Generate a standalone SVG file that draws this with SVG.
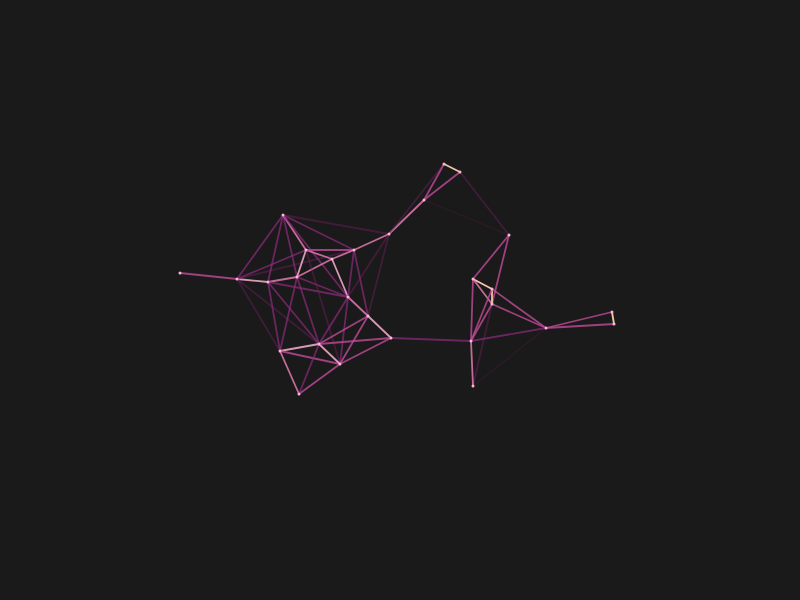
<svg xmlns="http://www.w3.org/2000/svg" width="800" height="600" viewBox="0 0 800 600">
<style>
.bg{fill:#1a1a1a}
line{stroke-width:1.8;stroke-linecap:round}
.w1{stroke:#7a2168;stroke-opacity:0.4}
.w2{stroke:#8e2b7c;stroke-opacity:0.7}
.w3{stroke:#c04a98;stroke-opacity:0.8}
.w4{stroke:#e07ab0;stroke-opacity:0.85}
.w4b{stroke:#eea6c6;stroke-opacity:0.9}
.w5{stroke:#f4c6a8}
.node circle{fill:#f7b8d2}
</style>
<rect class="bg" x="0" y="0" width="800" height="600"/>
<g id="links">
<line class="w3" x1="180" y1="273" x2="237" y2="279"/>
<line class="w4b" x1="237" y1="279" x2="268" y2="282"/>
<line class="w4" x1="268" y1="282" x2="297" y2="277"/>
<line class="w2" x1="237" y1="279" x2="283" y2="215"/>
<line class="w2" x1="237" y1="279" x2="306" y2="250"/>
<line class="w1" x1="237" y1="279" x2="354" y2="250"/>
<line class="w1" x1="237" y1="279" x2="319" y2="344"/>
<line class="w1" x1="237" y1="279" x2="280" y2="351"/>
<line class="w2" x1="283" y1="215" x2="268" y2="282"/>
<line class="w2" x1="283" y1="215" x2="297" y2="277"/>
<line class="w4" x1="283" y1="215" x2="306" y2="250"/>
<line class="w2" x1="283" y1="215" x2="354" y2="250"/>
<line class="w2" x1="283" y1="215" x2="348" y2="297"/>
<line class="w1" x1="283" y1="215" x2="389" y2="234"/>
<line class="w4b" x1="306" y1="250" x2="297" y2="277"/>
<line class="w4" x1="306" y1="250" x2="332" y2="259"/>
<line class="w3" x1="306" y1="250" x2="354" y2="250"/>
<line class="w4" x1="297" y1="277" x2="332" y2="259"/>
<line class="w4" x1="332" y1="259" x2="354" y2="250"/>
<line class="w4" x1="354" y1="250" x2="389" y2="234"/>
<line class="w4b" x1="332" y1="259" x2="348" y2="297"/>
<line class="w2" x1="354" y1="250" x2="348" y2="297"/>
<line class="w2" x1="354" y1="250" x2="368" y2="316"/>
<line class="w1" x1="389" y1="234" x2="348" y2="297"/>
<line class="w1" x1="389" y1="234" x2="368" y2="316"/>
<line class="w2" x1="268" y1="282" x2="348" y2="297"/>
<line class="w2" x1="297" y1="277" x2="348" y2="297"/>
<line class="w2" x1="268" y1="282" x2="280" y2="351"/>
<line class="w2" x1="268" y1="282" x2="319" y2="344"/>
<line class="w2" x1="297" y1="277" x2="280" y2="351"/>
<line class="w2" x1="297" y1="277" x2="319" y2="344"/>
<line class="w1" x1="306" y1="250" x2="340" y2="364"/>
<line class="w4" x1="348" y1="297" x2="368" y2="316"/>
<line class="w4b" x1="368" y1="316" x2="391" y2="338"/>
<line class="w2" x1="348" y1="297" x2="319" y2="344"/>
<line class="w2" x1="348" y1="297" x2="340" y2="364"/>
<line class="w4b" x1="280" y1="351" x2="319" y2="344"/>
<line class="w3" x1="280" y1="351" x2="340" y2="364"/>
<line class="w4" x1="280" y1="351" x2="299" y2="394"/>
<line class="w3" x1="299" y1="394" x2="340" y2="364"/>
<line class="w2" x1="299" y1="394" x2="319" y2="344"/>
<line class="w4b" x1="319" y1="344" x2="340" y2="364"/>
<line class="w3" x1="319" y1="344" x2="368" y2="316"/>
<line class="w3" x1="319" y1="344" x2="391" y2="338"/>
<line class="w3" x1="340" y1="364" x2="368" y2="316"/>
<line class="w3" x1="340" y1="364" x2="391" y2="338"/>
<line class="w2" x1="391" y1="338" x2="471" y2="341"/>
<line class="w4" x1="389" y1="234" x2="424" y2="200"/>
<line class="w1" x1="389" y1="234" x2="444" y2="164"/>
<line class="w3" x1="424" y1="200" x2="444" y2="164"/>
<line class="w3" x1="424" y1="200" x2="460" y2="172"/>
<line class="w5" x1="444" y1="164" x2="460" y2="172"/>
<line class="w1" x1="460" y1="172" x2="509" y2="235"/>
<line class="w1" x1="424" y1="200" x2="509" y2="235" style="stroke-opacity:0.15"/>
<line class="w3" x1="509" y1="235" x2="473" y2="279"/>
<line class="w3" x1="509" y1="235" x2="492" y2="304"/>
<line class="w1" x1="492" y1="304" x2="473" y2="386"/>
<line class="w5" x1="473" y1="279" x2="492" y2="289"/>
<line class="w4" x1="473" y1="279" x2="492" y2="304"/>
<line class="w5" x1="492" y1="289" x2="492" y2="304"/>
<line class="w3" x1="473" y1="279" x2="471" y2="341"/>
<line class="w3" x1="492" y1="289" x2="471" y2="341"/>
<line class="w3" x1="492" y1="304" x2="471" y2="341"/>
<line class="w3" x1="492" y1="289" x2="546" y2="328"/>
<line class="w3" x1="492" y1="304" x2="546" y2="328"/>
<line class="w2" x1="471" y1="341" x2="546" y2="328"/>
<line class="w4" x1="471" y1="341" x2="473" y2="386"/>
<line class="w1" x1="473" y1="386" x2="546" y2="328" style="stroke-opacity:0.15"/>
<line class="w3" x1="546" y1="328" x2="612" y2="312"/>
<line class="w3" x1="546" y1="328" x2="614" y2="324"/>
<line class="w5" x1="612" y1="312" x2="614" y2="324"/>
</g>
<g id="nodes" class="node">
<circle id="n0" cx="180" cy="273" r="1.5"/>
<circle id="n1" cx="237" cy="279" r="1.5"/>
<circle id="n2" cx="268" cy="282" r="1.5"/>
<circle id="n3" cx="283" cy="215" r="1.5"/>
<circle id="n4" cx="297" cy="277" r="1.5"/>
<circle id="n5" cx="306" cy="250" r="1.5"/>
<circle id="n6" cx="332" cy="259" r="1.5"/>
<circle id="n7" cx="354" cy="250" r="1.5"/>
<circle id="n8" cx="389" cy="234" r="1.5"/>
<circle id="n9" cx="348" cy="297" r="1.5"/>
<circle id="n10" cx="368" cy="316" r="1.5"/>
<circle id="n11" cx="391" cy="338" r="1.5"/>
<circle id="n12" cx="319" cy="344" r="1.5"/>
<circle id="n13" cx="280" cy="351" r="1.5"/>
<circle id="n14" cx="340" cy="364" r="1.5"/>
<circle id="n15" cx="299" cy="394" r="1.5"/>
<circle id="n16" cx="424" cy="200" r="1.5"/>
<circle id="n17" cx="444" cy="164" r="1.5"/>
<circle id="n18" cx="460" cy="172" r="1.5"/>
<circle id="n19" cx="509" cy="235" r="1.5"/>
<circle id="n20" cx="473" cy="279" r="1.5"/>
<circle id="n21" cx="492" cy="289" r="1.5"/>
<circle id="n22" cx="492" cy="304" r="1.5"/>
<circle id="n23" cx="471" cy="341" r="1.5"/>
<circle id="n24" cx="473" cy="386" r="1.5"/>
<circle id="n25" cx="546" cy="328" r="1.5"/>
<circle id="n26" cx="612" cy="312" r="1.5"/>
<circle id="n27" cx="614" cy="324" r="1.5"/>
</g>
</svg>
